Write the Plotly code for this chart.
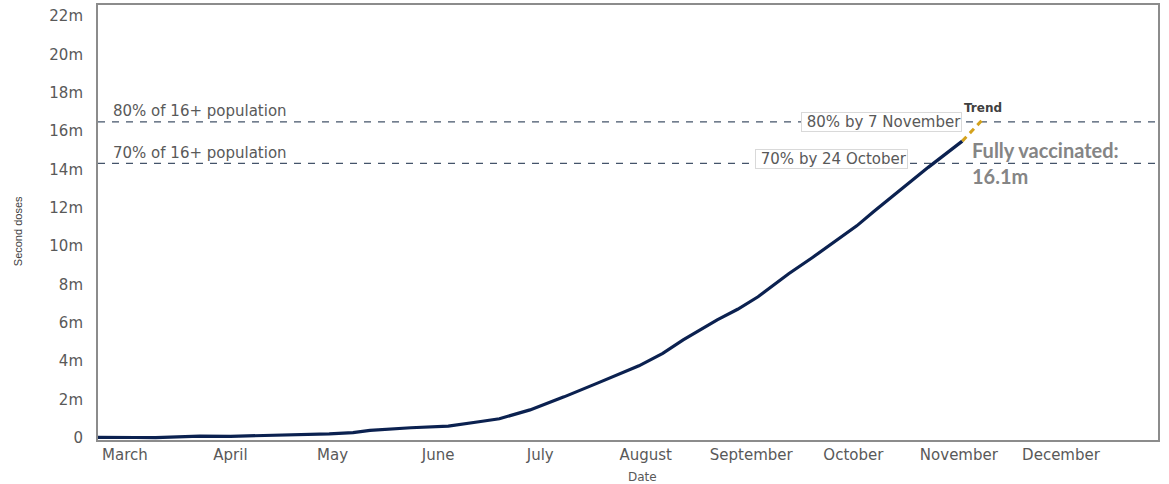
import plotly.graph_objects as go

# Cumulative second doses (millions)
dose_dates = ["2021-03-07", "2021-03-12", "2021-03-18", "2021-03-24", "2021-03-30",
              "2021-04-06", "2021-04-15", "2021-04-23", "2021-05-05", "2021-05-14",
              "2021-05-21", "2021-05-26", "2021-06-07", "2021-06-18", "2021-06-27",
              "2021-07-03", "2021-07-12", "2021-07-22", "2021-08-01", "2021-08-07",
              "2021-08-13", "2021-08-20", "2021-08-26", "2021-09-05", "2021-09-11",
              "2021-09-17", "2021-09-26", "2021-10-03", "2021-10-11", "2021-10-16",
              "2021-10-21", "2021-10-28", "2021-11-06", "2021-11-16"]
second_doses = [0.02, 0.0, 0.01, 0.0, 0.05,
                0.08, 0.07, 0.10, 0.13, 0.20,
                0.26, 0.38, 0.52, 0.60, 0.83,
                0.99, 1.45, 2.13, 2.86, 3.30,
                3.75, 4.40, 5.10, 6.15, 6.70,
                7.35, 8.55, 9.40, 10.40, 11.05,
                11.80, 12.80, 14.10, 15.47]

# Projected trend beyond the latest figure
trend_dates = ["2021-11-16", "2021-11-22"]
trend_values = [15.47, 16.60]

# Population targets (millions)
target_80 = 16.47
target_70 = 14.31

month_ticks = ["2021-03-15", "2021-04-15", "2021-05-15", "2021-06-15", "2021-07-15",
               "2021-08-15", "2021-09-15", "2021-10-15", "2021-11-15", "2021-12-15"]
month_labels = ["March", "April", "May", "June", "July",
                "August", "September", "October", "November", "December"]

y_ticks = [0, 2, 4, 6, 8, 10, 12, 14, 16, 18, 20, 22]
y_labels = ["0"] + [f"{v}m" for v in y_ticks[1:]]

NAVY = "#0b2150"
GOLD = "#d4a21c"
GUIDE = "#44546a"
TICK_FONT = dict(family="DejaVu Sans", size=15, color="#595959")

fig = go.Figure()

fig.add_trace(go.Scatter(
    x=dose_dates, y=second_doses, mode="lines",
    line=dict(color=NAVY, width=3.2), showlegend=False, hoverinfo="x+y"))

fig.add_trace(go.Scatter(
    x=trend_dates, y=trend_values, mode="lines",
    line=dict(color=GOLD, width=3, dash="6px,5px"), showlegend=False))

# Target guide lines
for level in (target_80, target_70):
    fig.add_shape(type="line", xref="paper", x0=0, x1=1, yref="y", y0=level, y1=level,
                  line=dict(color=GUIDE, width=1.2, dash="7px,7px"), layer="below")

annotations = [
    dict(text="80% of 16+ population", xref="paper", x=0.012, y=target_80,
         xanchor="left", yanchor="bottom", yshift=0, showarrow=False, font=TICK_FONT),
    dict(text="70% of 16+ population", xref="paper", x=0.012, y=target_70,
         xanchor="left", yanchor="bottom", yshift=-1, showarrow=False, font=TICK_FONT),
    dict(text="\u00a080% by 7 November", xref="paper", x=0.815, y=target_80,
         xanchor="right", yanchor="middle", showarrow=False, font=TICK_FONT,
         bgcolor="white", bordercolor="#d9d9d9", borderwidth=1, borderpad=0),
    dict(text="\u00a070% by 24 October", xref="paper", x=0.764, y=target_70,
         xanchor="right", yanchor="middle", yshift=4, showarrow=False, font=TICK_FONT,
         bgcolor="white", bordercolor="#d9d9d9", borderwidth=1, borderpad=0),
    dict(text="<b>Trend</b>", x=trend_dates[-1], y=trend_values[-1],
         xanchor="center", yanchor="bottom", yshift=2, showarrow=False,
         font=dict(family="DejaVu Sans", size=12, color="#404040")),
    dict(text="<b>Fully vaccinated:<br>16.1m</b>", xref="paper", yref="paper",
         x=0.8225, y=0.637, xanchor="left", yanchor="middle", align="left",
         showarrow=False, font=dict(family="Lato", size=20, color="#858585")),
    dict(text="Date", xref="paper", yref="paper", x=0.514, y=0, yshift=-37,
         xanchor="center", yanchor="middle", showarrow=False,
         font=dict(family="DejaVu Sans", size=12, color="#595959")),
    dict(text="Second doses", xref="paper", yref="paper", x=0, xshift=-80, y=0.48,
         xanchor="center", yanchor="middle", textangle=-90, showarrow=False,
         font=dict(family="Liberation Sans Narrow, Liberation Sans", size=11, color="#404040")),
]

fig.update_layout(
    width=1169, height=484,
    margin=dict(l=98, r=11, t=3, b=44),
    paper_bgcolor="white", plot_bgcolor="white",
    annotations=annotations,
    xaxis=dict(
        type="date", range=["2021-03-07 02:00", "2022-01-12 12:00"],
        tickvals=month_ticks, ticktext=month_labels, tickfont=TICK_FONT,
        ticks="", showgrid=False, zeroline=False,
        showline=True, linecolor="#8c8c8c", linewidth=2, mirror=True,
        ticklabelstandoff=0),
    yaxis=dict(
        range=[-0.12, 22.57], tickvals=y_ticks, ticktext=y_labels, tickfont=TICK_FONT,
        ticks="", showgrid=False, zeroline=False,
        showline=True, linecolor="#8c8c8c", linewidth=2, mirror=True,
        ticklabelstandoff=10),
)

fig.write_html("out.html")
